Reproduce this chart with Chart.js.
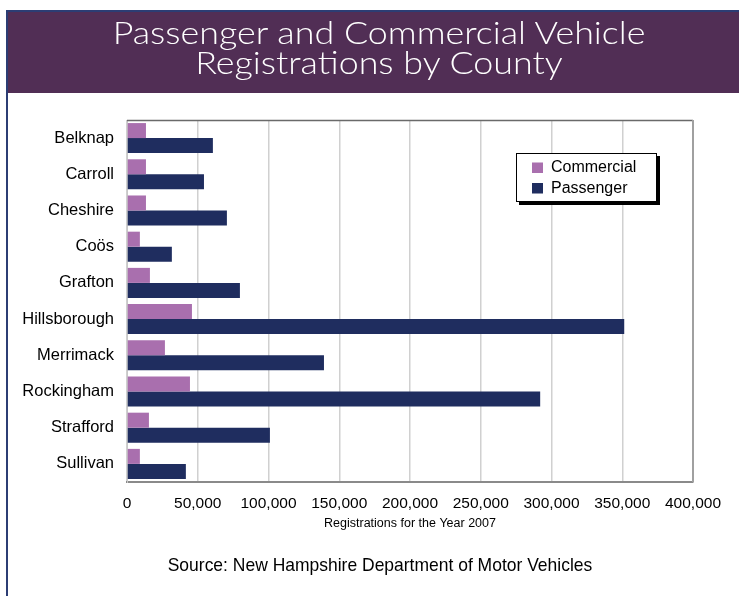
<!DOCTYPE html>
<html>
<head>
<meta charset="utf-8">
<script src="https://cdn.jsdelivr.net/npm/chart.js@4/dist/chart.umd.min.js"></script>
<style>
  html, body { margin: 0; padding: 0; background: #ffffff; }
  body { width: 739px; height: 596px; position: relative; overflow: hidden; }
  #leftLine { position: absolute; left: 6px; top: 10px; width: 2px; height: 586px; background: #2c3d74; }
  #topLine { position: absolute; left: 6px; top: 10px; width: 733px; height: 2px; background: #2c3d74; }
  #band { position: absolute; left: 8px; top: 12px; width: 731px; height: 81px; background: #512e55; }
  #title { position: absolute; left: 0px; top: 17px; width: 758px; text-align: center; color: #ffffff;
           font-family: "Lato", "Open Sans", sans-serif; font-weight: 300; font-size: 32px; line-height: 30px;
           transform: scaleX(1.12); transform-origin: 379px 0; }
  #source { position: absolute; left: 0; top: 553px; width: 760px; text-align: center; color: #000;
            font-family: "Liberation Sans Narrow", "Liberation Sans", sans-serif; font-size: 19px; line-height: 24px;
            transform: scaleX(0.92); transform-origin: 380px 0; }
  #c { position: absolute; left: 0; top: 0; }
</style>
</head>
<body>
<canvas id="c" width="739" height="596"></canvas>
<div id="leftLine"></div>
<div id="topLine"></div>
<div id="band"></div>
<div id="title">Passenger and Commercial Vehicle<br>Registrations by County</div>
<div id="source">Source: New Hampshire Department of Motor Vehicles</div>
<script>
const counties = ["Belknap", "Carroll", "Cheshire", "Coös", "Grafton", "Hillsborough", "Merrimack", "Rockingham", "Strafford", "Sullivan"];
const seriesNames = ["Commercial", "Passenger"];
const commercial = [13400, 13400, 13400, 9100, 16200, 45900, 26800, 44500, 15500, 9100];
const passenger = [60700, 54400, 70600, 31700, 79800, 351400, 139200, 292000, 101000, 41600];
const xTicks = [0, 50000, 100000, 150000, 200000, 250000, 300000, 350000, 400000];
const xTitle = "Registrations for the Year 2007";
const colors = ["#a96fae", "#1f2d5f"];

const frameAndLegend = {
  id: 'frameAndLegend',
  afterDatasetsDraw(chart) {
    const { ctx, chartArea: a } = chart;
    ctx.save();
    ctx.strokeStyle = '#6a6a6a';
    ctx.lineWidth = 1.5;
    ctx.beginPath(); ctx.moveTo(a.left, a.top + 0.5); ctx.lineTo(a.right, a.top + 0.5); ctx.stroke();
    ctx.strokeStyle = '#a0a0a0';
    ctx.lineWidth = 2;
    ctx.beginPath(); ctx.moveTo(a.right, a.top); ctx.lineTo(a.right, a.bottom); ctx.stroke();
    ctx.restore();
  },
  afterDraw(chart) {
    const { ctx } = chart;
    const bx = 516, by = 153, bw = 141, bh = 49;
    ctx.save();
    ctx.fillStyle = '#000';
    ctx.fillRect(bx + 3, by + 3, bw, bh);
    ctx.fillStyle = '#fff';
    ctx.fillRect(bx, by, bw, bh);
    ctx.strokeStyle = '#000';
    ctx.lineWidth = 1;
    ctx.strokeRect(bx + 0.5, by + 0.5, bw - 1, bh - 1);
    ctx.font = '16px "Liberation Sans", Arial, sans-serif';
    ctx.textBaseline = 'middle';
    chart.data.datasets.forEach((ds, i) => {
      const cy = by + 14.5 + i * 20.5;
      ctx.fillStyle = ds.backgroundColor;
      ctx.fillRect(bx + 16, cy - 5, 11, 10.5);
      ctx.fillStyle = '#000';
      ctx.fillText(ds.label, bx + 35, cy + 0.5);
    });
    ctx.restore();
  }
};

new Chart(document.getElementById('c'), {
  type: 'bar',
  data: {
    labels: counties,
    datasets: [
      { label: seriesNames[0], data: commercial, backgroundColor: colors[0] },
      { label: seriesNames[1], data: passenger, backgroundColor: colors[1] }
    ]
  },
  options: {
    indexAxis: 'y',
    responsive: false,
    animation: false,
    devicePixelRatio: 1,
    categoryPercentage: 0.83,
    barPercentage: 1.0,
    layout: { padding: { left: 0, top: 120, right: 46, bottom: 64 } },
    plugins: {
      legend: { display: false },
      tooltip: { enabled: false },
      title: { display: false }
    },
    scales: {
      x: {
        min: xTicks[0],
        max: xTicks[xTicks.length - 1],
        afterBuildTicks: (s) => { s.ticks = xTicks.map(v => ({ value: v })); },
        afterFit: (s) => { s.height = 50; },
        grid: { color: '#d0d0d0', lineWidth: 1.5, drawTicks: false },
        border: { color: '#8a8a8a', width: 2 },
        ticks: {
          padding: 12,
          color: '#000',
          font: { family: '"Liberation Sans", Arial, sans-serif', size: 15.5 },
          maxRotation: 0,
          callback: (v) => Number(v).toLocaleString('en-US')
        },
        title: {
          display: true,
          text: xTitle,
          color: '#000',
          font: { family: '"Liberation Sans", Arial, sans-serif', size: 12.5 },
          padding: { top: 0, bottom: 1 }
        }
      },
      y: {
        afterFit: (s) => { s.width = 127; },
        grid: { display: false, drawTicks: false },
        border: { color: '#c8c8c8', width: 1 },
        ticks: {
          padding: 13,
          color: '#000',
          font: { family: '"Liberation Sans", Arial, sans-serif', size: 16.5 }
        }
      }
    }
  },
  plugins: [frameAndLegend]
});
</script>
</body>
</html>
